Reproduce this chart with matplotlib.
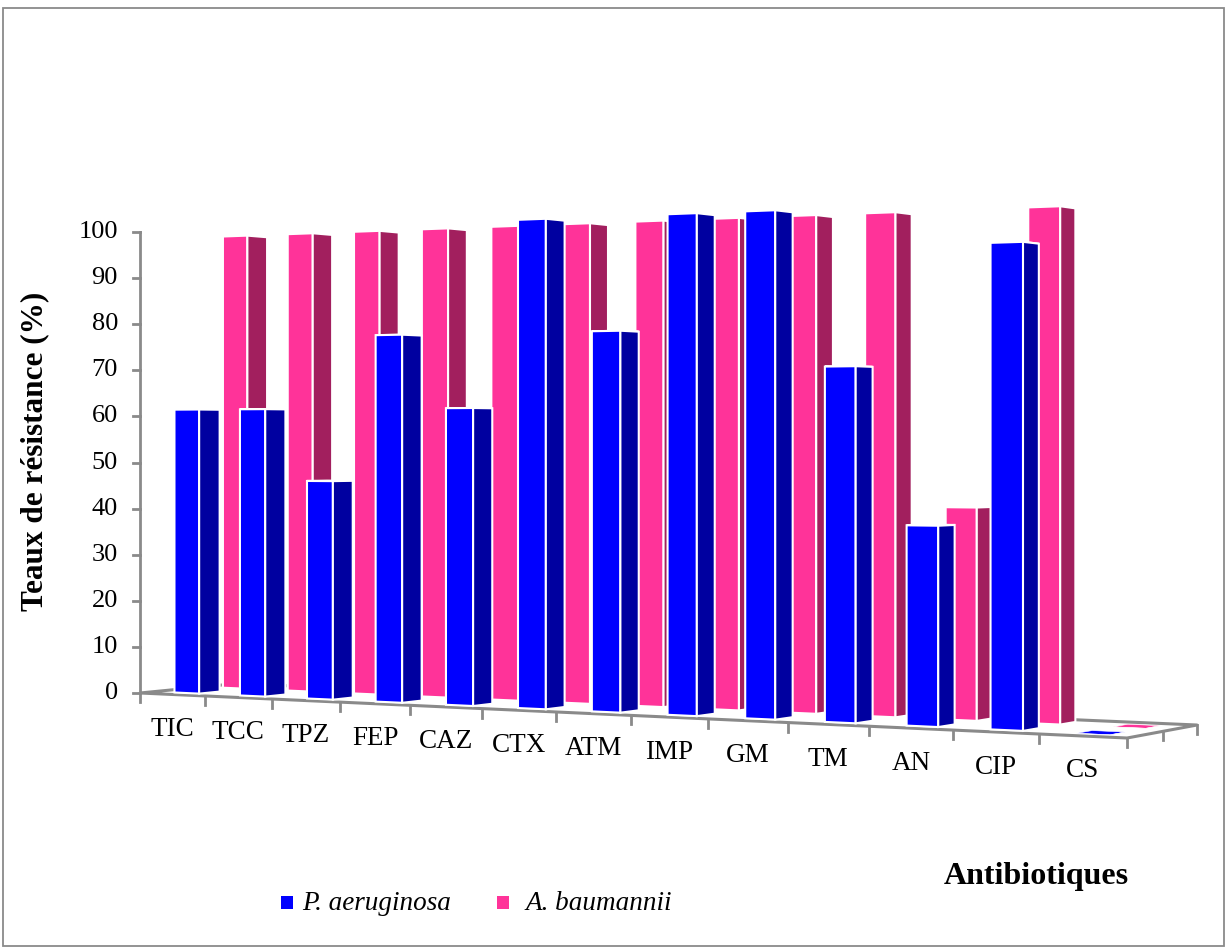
import numpy as np
import matplotlib.pyplot as plt
from matplotlib.patches import Polygon, Rectangle

categories = ["TIC", "TCC", "TPZ", "FEP", "CAZ", "CTX", "ATM",
              "IMP", "GM", "TM", "AN", "CIP", "CS"]
p_aeruginosa = [61.5, 61.5, 46.2, 76.9, 61.5, 100, 76.9,
                100, 100, 69.2, 38.5, 92.3, 0]
a_baumannii = [100, 100, 100, 100, 100, 100, 100,
               100, 100, 100, 41.7, 100, 0]
series_names = ["P. aeruginosa", "A. baumannii"]
y_ticks = [0, 10, 20, 30, 40, 50, 60, 70, 80, 90, 100]

FONT = "Liberation Serif"
GREY = "#8a8a8a"
front_colors = ["#0000ff", "#ff3399"]
side_colors = ["#0000a0", "#a21f5e"]

# --- two-point perspective for the 3-D column look -------------------------
# floor plane: X runs along the categories, Z runs back through the series
ORIGIN = (140.0, 693.0)     # front-left floor corner, canvas pixels
HORIZON = 440.0             # eye level on the canvas
VP_X, VP_Z = -5408.0, 2732.0
EYE = 54.9                  # eye height, in value units
N_CAT = len(categories)
N_ROW = 2
FRONT_RIGHT_X, BACK_RIGHT_X = 1127.0, 1197.0

ka = (FRONT_RIGHT_X - ORIGIN[0]) / (N_CAT * (VP_X - FRONT_RIGHT_X))
kb = (BACK_RIGHT_X * (N_CAT * ka + 1) - N_CAT * ka * VP_X - ORIGIN[0]) / (
    N_ROW * (VP_Z - BACK_RIGHT_X))


def project(X, Z, v=0.0):
    w = ka * X + kb * Z + 1.0
    x = (ka * X * VP_X + kb * Z * VP_Z + ORIGIN[0]) / w
    yf = (ka * X * HORIZON + kb * Z * HORIZON + ORIGIN[1]) / w
    y = yf - (ORIGIN[1] - HORIZON) * v / (EYE * w)
    return x, y


def quad(pts):
    return [project(*p) for p in pts]


fig = plt.figure(figsize=(12.27, 9.47), dpi=100)
ax = fig.add_axes([0, 0, 1, 1])
ax.set_xlim(0, 1227)
ax.set_ylim(947, 0)
ax.axis("off")

ax.add_patch(Rectangle((3, 8), 1221, 938, fill=False, ec=GREY, lw=1.3))

# floor
floor = quad([(0, 0), (N_CAT, 0), (N_CAT, N_ROW), (0, N_ROW)])
ax.add_patch(Polygon(floor, closed=True, fc="white", ec=GREY, lw=2.2,
                     joinstyle="round", zorder=1))

for k in range(N_CAT + 1):
    x, y = project(k, 0)
    ax.plot([x, x], [y, y + 9], color=GREY, lw=2, zorder=1)
for r in range(1, N_ROW + 1):
    x, y = project(N_CAT, r)
    ax.plot([x, x], [y, y + 9], color=GREY, lw=2, zorder=1)

# value axis on the front-left corner
x0, ybot = project(0, 0, 0)
_, ytop = project(0, 0, 100)
ax.plot([x0, x0], [ybot, ytop], color=GREY, lw=2, zorder=1)
for t in y_ticks:
    _, yt = project(0, 0, t)
    ax.plot([x0 - 7, x0], [yt, yt], color=GREY, lw=2, zorder=1)
    ax.text(x0 - 22, yt, str(t), ha="right", va="center",
            fontsize=19, family=FONT)

# category labels under the front edge
for i, lab in enumerate(categories):
    x, y = project(i + 0.5, 0)
    ax.text(x, y + 35, lab, ha="center", va="center", fontsize=19.5,
            family=FONT)

# columns, drawn far to near
half_w, half_d = 0.19, 0.21
bars = []
for s, values in enumerate([p_aeruginosa, a_baumannii]):
    for i, v in enumerate(values):
        bars.append((s, i, v))
bars.sort(key=lambda b: -(ka * (b[1] + 0.5) + kb * (b[0] + 0.5)))

for z, (s, i, v) in enumerate(bars):
    X0, X1 = i + 0.5 - half_w, i + 0.5 + half_w
    Z0, Z1 = s + 0.5 - half_d, s + 0.5 + half_d
    top = quad([(X0, Z0, v), (X1, Z0, v), (X1, Z1, v), (X0, Z1, v)])
    front = quad([(X0, Z0, 0), (X1, Z0, 0), (X1, Z0, v), (X0, Z0, v)])
    side = quad([(X1, Z0, 0), (X1, Z1, 0), (X1, Z1, v), (X1, Z0, v)])
    lw = 1.5 if v > 0 else 0.4
    for pts, col in [(top, front_colors[s]), (front, front_colors[s]),
                     (side, side_colors[s])]:
        ax.add_patch(Polygon(pts, closed=True, fc=col, ec="white", lw=lw,
                             joinstyle="miter", zorder=2 + z * 0.01))

# axis titles
ax.text(35, 451, "Teaux de résistance (%)", rotation=90, ha="center",
        va="center", fontsize=22.5, fontweight="bold", family=FONT)
ax.text(1036, 876, "Antibiotiques", ha="center", va="center",
        fontsize=23, fontweight="bold", family=FONT)

# legend
for (sx, tx), name, col in zip([(281, 302), (497, 525)], series_names,
                               front_colors):
    ax.add_patch(Rectangle((sx, 896), 12, 13, fc=col, ec="none"))
    ax.text(tx, 903, name, ha="left", va="center", fontsize=19.5,
            style="italic", family=FONT)

fig.savefig("out.png", dpi=100)
